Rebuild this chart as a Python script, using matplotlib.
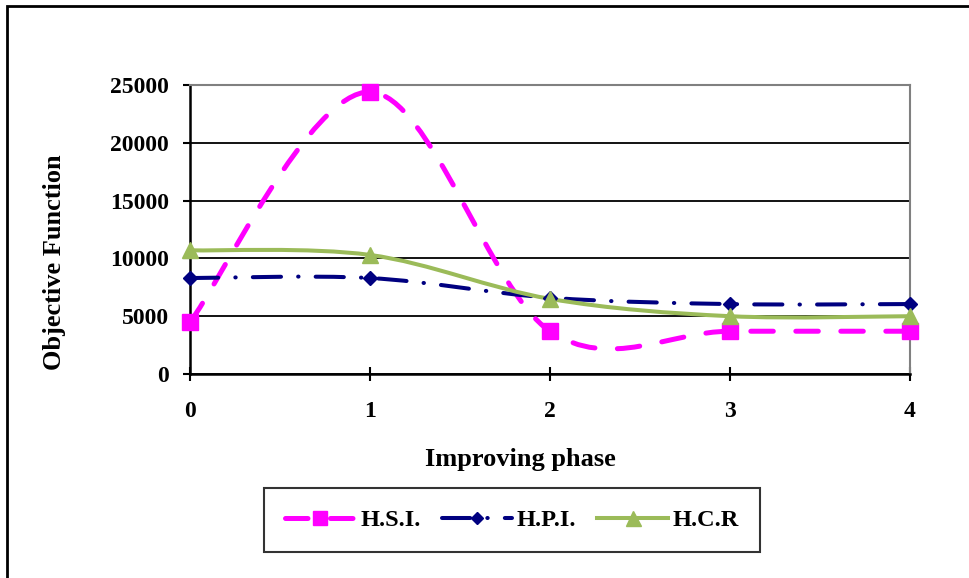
import numpy as np
import matplotlib.pyplot as plt
from matplotlib.path import Path
from matplotlib.patches import PathPatch, Rectangle
from matplotlib.lines import Line2D

plt.rcParams["font.family"] = ["Liberation Serif", "DejaVu Serif"]
plt.rcParams["font.weight"] = "bold"

phases = [0, 1, 2, 3, 4]
hsi = [4500, 24400, 3700, 3700, 3700]
hpi = [8300, 8300, 6600, 6050, 6050]
hcr = [10700, 10300, 6500, 5000, 5000]
yticks = [0, 5000, 10000, 15000, 20000, 25000]


def smooth_path(xs, ys):
    # Excel-style smoothed line: cubic Bezier segments, Catmull-Rom control points
    pts = np.column_stack([xs, ys]).astype(float)
    n = len(pts)
    verts = [pts[0]]
    codes = [Path.MOVETO]
    for i in range(n - 1):
        p0 = pts[max(i - 1, 0)]
        p1 = pts[i]
        p2 = pts[i + 1]
        p3 = pts[min(i + 2, n - 1)]
        c1 = p1 + (p2 - p0) / 6.0
        c2 = p2 - (p3 - p1) / 6.0
        verts += [c1, c2, p2]
        codes += [Path.CURVE4] * 3
    return Path(verts, codes)


fig = plt.figure(figsize=(9.69, 5.78), dpi=100)
ax = fig.add_axes([190 / 969, 1 - 374 / 578, 720 / 969, 289 / 578])

series = [
    ("H.S.I.", hsi, "#FF00FF", (0, (4.5, 4.5)), "s", 11, 3.6),
    ("H.P.I.", hpi, "#000080", (0, (7, 4.25, 0.1, 4.25)), "D", 7, 2.9),
    ("H.C.R", hcr, "#9BBB59", "-", "^", 12, 2.9),
]

handles = []
for name, vals, color, ls, mk, ms, lw in series:
    path = smooth_path(phases, vals)
    ax.add_patch(PathPatch(path, fill=False, edgecolor=color, lw=lw,
                           linestyle=ls, capstyle="round", zorder=3))
    ax.plot(phases, vals, linestyle="none", marker=mk, markersize=ms,
            color=color, zorder=4, clip_on=False)
    h = Line2D([], [], color=color, lw=lw, linestyle=ls,
               marker=mk, markersize=ms * 0.9)
    h.set_dash_capstyle("round")
    handles.append(h)

ax.set_xlim(0, 4)
ax.set_ylim(0, 25000)
ax.set_xticks(phases)
ax.set_yticks(yticks)
ax.set_xticklabels([str(p) for p in phases], fontsize=17, fontweight="bold")
ax.set_yticklabels([str(t) for t in yticks], fontsize=17, fontweight="bold")
ax.yaxis.grid(True, color="black", lw=1.3)
ax.set_axisbelow(True)

for side in ["top", "right"]:
    ax.spines[side].set_color("#808080")
    ax.spines[side].set_linewidth(1.5)
for side in ["left", "bottom"]:
    ax.spines[side].set_color("black")
    ax.spines[side].set_linewidth(1.8)

ax.tick_params(axis="y", direction="out", length=5, width=1.5, pad=10)
ax.tick_params(axis="x", direction="inout", length=10, width=1.5, pad=14.5)

ax.set_xlabel("Improving phase", fontsize=19, fontweight="bold")
ax.set_ylabel("Objective Function", fontsize=19, fontweight="bold")
ax.xaxis.set_label_coords((520 - 190) / 720, (374 - 448) / 289)
ax.yaxis.set_label_coords((66 - 190) / 720, (374 - 262) / 289)

leg = fig.legend(handles, [s[0] for s in series], loc="center",
                 bbox_to_anchor=(512 / 969, 1 - 520 / 578), ncol=3,
                 frameon=True, fancybox=False, edgecolor="black",
                 prop={"size": 17.5, "weight": "bold"}, handlelength=2.9,
                 columnspacing=0.86, handletextpad=0.2, borderpad=0.85)
leg.get_frame().set_linewidth(1.5)

fig.patches.append(Rectangle((7 / 969, -0.05), 1.1, 1 - 6 / 578 + 0.05,
                             transform=fig.transFigure, fill=False,
                             edgecolor="black", lw=2))

fig.savefig("out.png", dpi=100)
